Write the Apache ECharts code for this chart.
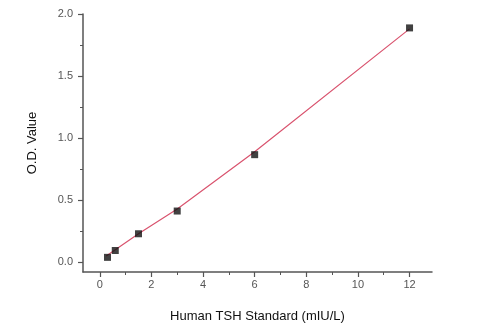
<!DOCTYPE html>
<html><head><meta charset="utf-8">
<script src="https://cdn.jsdelivr.net/npm/echarts@6/dist/echarts.min.js"></script>
<style>html,body{margin:0;padding:0;background:#fff}#c{width:489px;height:329px}</style>
</head><body><div id="c"></div>
<script>
var concX = [0.3, 0.6, 1.5, 3, 6, 12];
var odY = [0.04, 0.095, 0.23, 0.413, 0.867, 1.888];
var fitX = [0.25, 1.5, 3, 6, 12];
var fitY = [0.05, 0.23, 0.43, 0.89, 1.88];
var xMajor = [0, 2, 4, 6, 8, 10, 12];
var xMinor = [1, 3, 5, 7, 9, 11];
var yMajor = [0.0, 0.5, 1.0, 1.5, 2.0];
var yMinor = [0.25, 0.75, 1.25, 1.75];

var font = 'Liberation Sans, Arial, sans-serif';
var axisCol = '#555';
var chart = echarts.init(document.getElementById('c'), null, {renderer: 'canvas'});
function pts(xs, ys){ return xs.map(function(x,i){return [x, ys[i]];}); }
var xMin = -0.65, xMax = 12.87, yMin = -0.078, yMax = 2.0;
chart.setOption({
  animation: false,
  backgroundColor: '#fff',
  grid: {left: 83, right: 57, top: 14, bottom: 57},
  xAxis: [{
    type: 'value', min: xMin, max: xMax,
    name: 'Human TSH Standard (mIU/L)', nameLocation: 'middle', nameGap: 38,
    nameTextStyle: {fontFamily: font, fontSize: 13, color: '#111'},
    axisLine: {show: true, onZero: false, lineStyle: {color: axisCol, width: 1.5}},
    axisTick: {show: true, length: 5, customValues: xMajor, lineStyle: {color: axisCol, width: 1.2}},
    axisLabel: {customValues: xMajor, fontFamily: font, fontSize: 11, color: '#555', margin: 7,
      formatter: function(v){ return String(v); }},
    splitLine: {show: false}
  }, {
    type: 'value', min: xMin, max: xMax, position: 'bottom', gridIndex: 0,
    axisLine: {show: false, onZero: false},
    axisTick: {show: true, length: 3, customValues: xMinor, lineStyle: {color: axisCol, width: 1}},
    axisLabel: {show: false},
    splitLine: {show: false}
  }],
  yAxis: [{
    type: 'value', min: yMin, max: yMax,
    name: 'O.D. Value', nameLocation: 'middle', nameGap: 44,
    nameTextStyle: {fontFamily: font, fontSize: 13, color: '#111'},
    axisLine: {show: true, onZero: false, lineStyle: {color: axisCol, width: 1.5}},
    axisTick: {show: true, length: 5, customValues: yMajor, lineStyle: {color: axisCol, width: 1.2}},
    axisLabel: {customValues: yMajor, fontFamily: font, fontSize: 11, color: '#555', margin: 10,
      formatter: function(v){ return v.toFixed(1); }},
    splitLine: {show: false}
  }, {
    type: 'value', min: yMin, max: yMax, position: 'left', gridIndex: 0,
    axisLine: {show: false, onZero: false},
    axisTick: {show: true, length: 3, customValues: yMinor, lineStyle: {color: axisCol, width: 1}},
    axisLabel: {show: false},
    splitLine: {show: false}
  }],
  series: [{
    type: 'line', data: pts(fitX, fitY), showSymbol: false, symbol: 'none',
    lineStyle: {color: '#d9536e', width: 1.2}, z: 2
  }, {
    type: 'scatter', data: pts(concX, odY), symbol: 'rect', symbolSize: 7,
    itemStyle: {color: '#111'}, z: 3
  }]
});
</script></body></html>
